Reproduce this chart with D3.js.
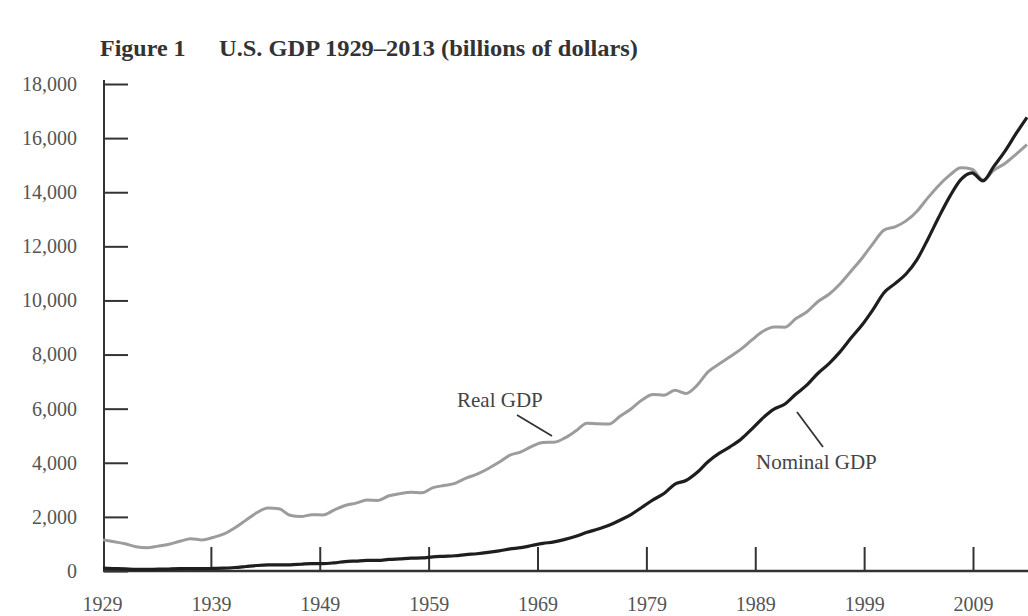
<!DOCTYPE html>
<html>
<head>
<meta charset="utf-8">
<script src="https://cdn.jsdelivr.net/npm/d3@7"></script>
<style>
  html, body { margin: 0; padding: 0; background: #ffffff; }
  svg { display: block; }
</style>
</head>
<body>
<svg id="chart" width="1028" height="616"></svg>
<script>
// ---------- data ----------
const years = d3.range(1929, 2014);
const nominalGDP = [104.6, 92.2, 77.4, 59.5, 57.2, 66.8, 74.3, 84.9, 93.0, 87.4,
  93.5, 102.9, 129.4, 166.0, 203.1, 224.6, 228.2, 227.8, 249.9, 274.8,
  272.8, 300.2, 347.3, 367.7, 389.7, 391.1, 426.2, 450.1, 474.9, 482.0,
  522.5, 543.3, 563.3, 605.1, 638.6, 685.8, 743.7, 815.0, 861.7, 942.5,
  1019.9, 1075.9, 1167.8, 1282.4, 1428.5, 1548.8, 1688.9, 1877.6, 2086.0, 2356.6,
  2632.1, 2862.5, 3211.0, 3345.0, 3638.1, 4040.7, 4346.7, 4590.2, 4870.2, 5252.6,
  5657.7, 5979.6, 6174.0, 6539.3, 6878.7, 7308.8, 7664.1, 8100.2, 8608.5, 9089.2,
  9660.6, 10284.8, 10621.8, 10977.5, 11510.7, 12274.9, 13093.7, 13855.9, 14477.6, 14718.6,
  14418.7, 14964.4, 15517.9, 16163.2, 16768.1];
const realGDP = [1150, 1080, 1010, 900, 860, 920, 990, 1100, 1190, 1150,
  1240, 1370, 1600, 1880, 2160, 2330, 2300, 2060, 2010, 2080,
  2070, 2250, 2420, 2510, 2620, 2610, 2780, 2860, 2910, 2890,
  3080, 3160, 3240, 3430, 3580, 3780, 4020, 4280, 4400, 4610,
  4750, 4760, 4920, 5180, 5460, 5440, 5430, 5720, 5990, 6320,
  6520, 6500, 6680, 6560, 6860, 7360, 7650, 7920, 8200, 8540,
  8860, 9020, 9010, 9330, 9580, 9960, 10230, 10610, 11080, 11560,
  12100, 12600, 12720, 12940, 13300, 13800, 14260, 14640, 14900, 14850,
  14450, 14820, 15060, 15400, 15760];
const xTickYears = [1929, 1939, 1949, 1959, 1969, 1979, 1989, 1999, 2009];
const yTickValues = [0, 2000, 4000, 6000, 8000, 10000, 12000, 14000, 16000, 18000];
const titleLead = "Figure 1";
const titleText = "U.S. GDP 1929\u20132013 (billions of dollars)";
const realLabel = "Real GDP";
const nominalLabel = "Nominal GDP";

// ---------- layout ----------
const svg = d3.select("#chart");
const serif = "'Liberation Serif', 'Times New Roman', serif";

const x = d3.scaleLinear().domain([1929, 2013]).range([103, 1027]);
// the printed axis tick spacing is slightly tighter than the plotted data
const xAxisScale = d3.scaleLinear().domain([1929, 2009]).range([102, 973]);
const y = d3.scaleLinear().domain([0, 18000]).range([571, 84]);

// title
svg.append("text")
  .attr("x", 100).attr("y", 56)
  .attr("font-family", serif).attr("font-weight", "bold")
  .attr("font-size", 24).attr("fill", "#333")
  .text(titleLead);
svg.append("text")
  .attr("x", 219).attr("y", 56)
  .attr("font-family", serif).attr("font-weight", "bold")
  .attr("font-size", 24).attr("fill", "#333")
  .attr("textLength", 419).attr("lengthAdjust", "spacingAndGlyphs")
  .text(titleText);

// y axis
const yAxis = d3.axisLeft(y)
  .tickValues(yTickValues)
  .tickFormat(d3.format(","))
  .tickSizeInner(-24)
  .tickSizeOuter(0)
  .tickPadding(27);
const gy = svg.append("g").attr("transform", "translate(104,0)").call(yAxis);
gy.select(".domain").attr("stroke", "#333").attr("stroke-width", 2)
  .attr("d", `M0,${y(18000) - 4}V${y(0)}`);
gy.selectAll(".tick line").attr("stroke", "#333").attr("stroke-width", 2);
gy.selectAll(".tick text")
  .attr("font-family", serif).attr("font-size", 20).attr("fill", "#555");

// x axis
const xAxis = d3.axisBottom(xAxisScale)
  .tickValues(xTickYears)
  .tickFormat(d3.format("d"))
  .tickSizeInner(-24)
  .tickSizeOuter(0)
  .tickPadding(26);
const gx = svg.append("g").attr("transform", `translate(0,${y(0)})`).call(xAxis);
gx.select(".domain").attr("stroke", "#333").attr("stroke-width", 2.5)
  .attr("d", "M103,0H1028");
gx.selectAll(".tick line").attr("stroke", "#333").attr("stroke-width", 2)
  .filter(d => d === 1929).remove();
gx.selectAll(".tick text")
  .attr("font-family", serif).attr("font-size", 20).attr("fill", "#555");

// lines
const lineGen = vals => d3.line()
  .x((d, i) => x(years[i]))
  .y(d => y(d))
  .curve(d3.curveMonotoneX)(vals);

svg.append("path")
  .attr("d", lineGen(realGDP))
  .attr("fill", "none")
  .attr("stroke", "#9c9c9c")
  .attr("stroke-width", 3)
  .attr("stroke-linejoin", "round");

svg.append("path")
  .attr("d", lineGen(nominalGDP))
  .attr("fill", "none")
  .attr("stroke", "#1e1e1e")
  .attr("stroke-width", 3.2)
  .attr("stroke-linejoin", "round");

// annotations
svg.append("text")
  .attr("x", 457).attr("y", 407)
  .attr("font-family", serif).attr("font-size", 21).attr("fill", "#444")
  .text(realLabel);
svg.append("line")
  .attr("x1", 517).attr("y1", 415).attr("x2", 552).attr("y2", 436)
  .attr("stroke", "#333").attr("stroke-width", 1.8);

svg.append("text")
  .attr("x", 756).attr("y", 469)
  .attr("font-family", serif).attr("font-size", 21).attr("fill", "#444")
  .text(nominalLabel);
svg.append("line")
  .attr("x1", 797).attr("y1", 412).attr("x2", 823).attr("y2", 447)
  .attr("stroke", "#333").attr("stroke-width", 1.8);
</script>
</body>
</html>
